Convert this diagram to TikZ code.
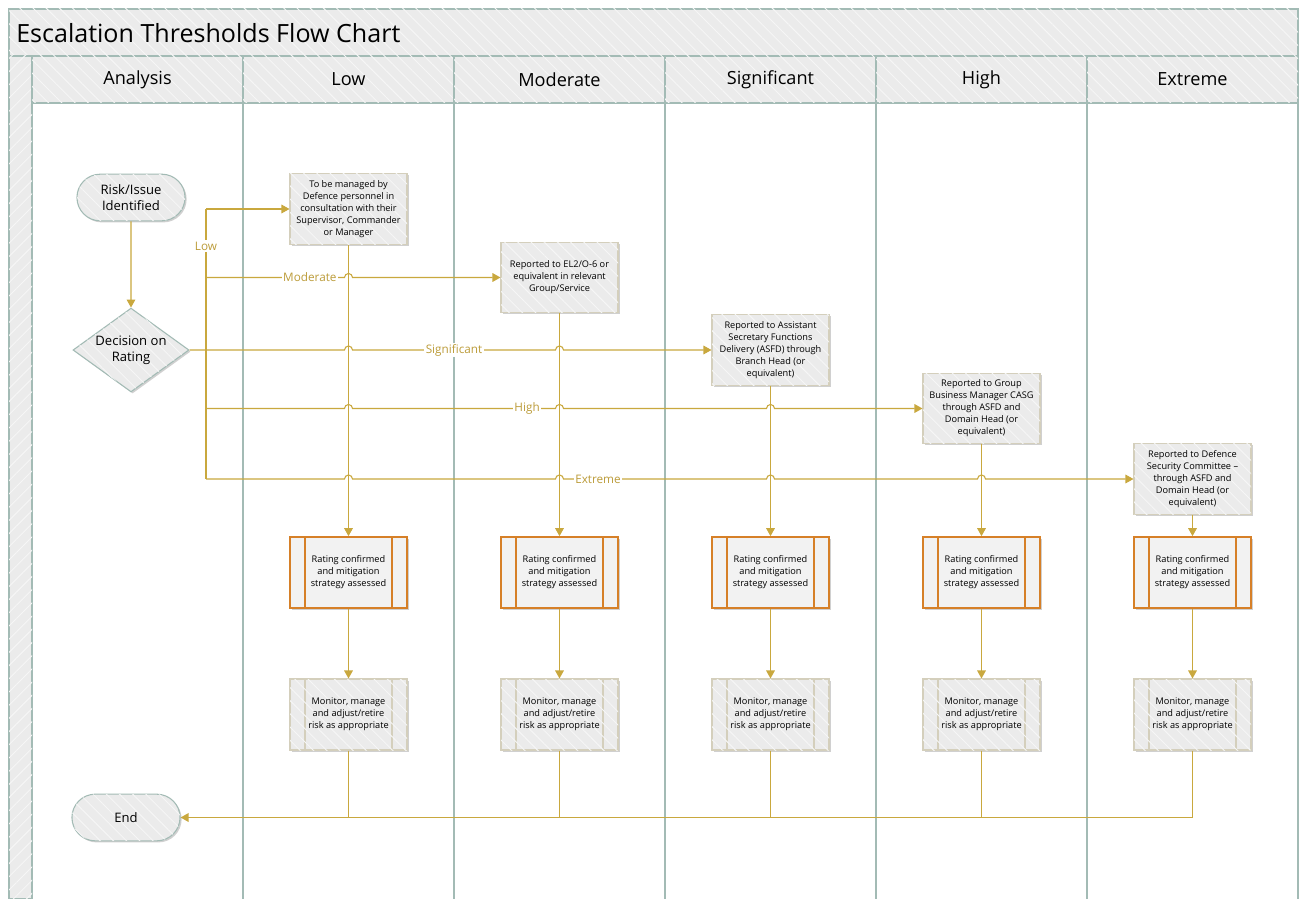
\documentclass[tikz,border=0pt]{standalone}
\usepackage{fontspec}
\setmainfont{Open Sans}
\usetikzlibrary{positioning,shapes.geometric,shapes.misc,arrows.meta,shadows,patterns.meta}

\definecolor{flowgold}{RGB}{201,168,62}
\definecolor{labelgold}{RGB}{188,156,58}
\definecolor{lanegrey}{RGB}{163,187,181}
\definecolor{panefill}{RGB}{235,235,235}
\definecolor{stripe}{RGB}{246,246,246}
\definecolor{boxedge}{RGB}{212,207,188}
\definecolor{rateedge}{RGB}{214,128,40}
\definecolor{ratefill}{RGB}{242,242,242}

\newcommand{\boxfont}{\fontsize{6.9}{9}\selectfont}

\tikzset{
  hatchdown/.style={fill=panefill, postaction={pattern={Lines[angle=-45,distance=7pt,line width=0.7pt]}, pattern color=stripe}},
  hatchup/.style={fill=panefill, postaction={pattern={Lines[angle=45,distance=7pt,line width=0.7pt]}, pattern color=stripe}},
  lane/.style={draw=lanegrey, line width=0.9pt},
  head/.style={lane, hatchdown, minimum width=158.25pt, minimum height=35.25pt, inner sep=0pt, font=\fontsize{13.6}{15}\selectfont},
  softshadow/.style={drop shadow={shadow xshift=1.2pt, shadow yshift=-1.2pt, opacity=0.3, fill=black!60}},
  term/.style={rounded rectangle, draw=lanegrey, line width=0.8pt, hatchdown, softshadow, minimum width=87.75pt, minimum height=35pt, align=center, font=\fontsize{9.8}{12}\selectfont},
  decide/.style={diamond, draw=lanegrey, line width=0.8pt, hatchdown, softshadow, inner sep=-3pt, minimum width=87pt, minimum height=52.5pt, align=center, font=\fontsize{9.8}{12}\selectfont},
  flowbox/.style={draw=boxedge, line width=0.8pt, hatchdown, softshadow, minimum width=87.75pt, minimum height=53pt, inner sep=1pt, align=center, font=\boxfont},
  ratebox/.style={draw=rateedge, line width=1.3pt, fill=ratefill, softshadow, minimum width=87.75pt, minimum height=53.25pt, inner sep=1pt, align=center, font=\boxfont,
    path picture={\draw[rateedge, line width=1.3pt]
      ([xshift=11.25pt]path picture bounding box.north west) -- ([xshift=11.25pt]path picture bounding box.south west)
      ([xshift=-11.25pt]path picture bounding box.north east) -- ([xshift=-11.25pt]path picture bounding box.south east);}},
  monbox/.style={draw=boxedge, line width=0.8pt, hatchdown, softshadow, minimum width=87.75pt, minimum height=53.25pt, inner sep=1pt, align=center, font=\boxfont,
    path picture={\draw[boxedge, line width=0.8pt]
      ([xshift=11.25pt]path picture bounding box.north west) -- ([xshift=11.25pt]path picture bounding box.south west)
      ([xshift=-11.25pt]path picture bounding box.north east) -- ([xshift=-11.25pt]path picture bounding box.south east);}},
  flow/.style={draw=flowgold, line width=0.8pt},
  tip/.style={-{Triangle[length=6pt,width=6.5pt]}},
  lbl/.style={fill=white, text=labelgold, inner sep=1pt, font=\fontsize{8.8}{10}\selectfont}
}

\begin{document}
\begin{tikzpicture}[x=0.75pt, y=0.75pt]
\useasboundingbox (0,0) rectangle (1303,-899);
\fill[white] (0,0) rectangle (1303,-899);

% pool, title and lanes
\draw[lane, hatchdown] (9,-9) rectangle (1298,-56);
\node[anchor=west, inner sep=0pt, font=\fontsize{18.8}{22}\selectfont] (title) at (16,-33) {Escalation Thresholds Flow Chart};
\draw[lane, hatchup] (9,-56) rectangle (32,-899);
\node[head] (hAnalysis) at (137.5,-79.5) {Analysis};
\node[head] (hLow) at (348.5,-79.5) {Low};
\node[head] (hModerate) at (559.5,-79.5) {Moderate};
\node[head] (hSignificant) at (770.5,-79.5) {Significant};
\node[head] (hHigh) at (981.5,-79.5) {High};
\node[head] (hExtreme) at (1192.5,-79.5) {Extreme};
\draw[lane] (243,-103) -- (243,-899);
\draw[lane] (454,-103) -- (454,-899);
\draw[lane] (665,-103) -- (665,-899);
\draw[lane] (876,-103) -- (876,-899);
\draw[lane] (1087,-103) -- (1087,-899);
\draw[lane] (1298,-103) -- (1298,-899);

% analysis lane
\node[term] (risk) at (131,-197.5) {Risk/Issue\\Identified};
\node[decide] (rating) at (131,-350) {Decision on\\Rating};
\node[term] (finish) at (126,-817.5) {End};

% reporting boxes
\node[flowbox] (toLow) at (348.5,-209) {To be managed by\\Defence personnel in\\consultation with their\\Supervisor, Commander\\or Manager};
\node[flowbox] (toModerate) at (559.5,-277.5) {Reported to EL2/O-6 or\\equivalent in relevant\\Group/Service};
\node[flowbox] (toSignificant) at (770.5,-350) {Reported to Assistant\\Secretary Functions\\Delivery (ASFD) through\\Branch Head (or\\equivalent)};
\node[flowbox] (toHigh) at (981.5,-408.5) {Reported to Group\\Business Manager CASG\\through ASFD and\\Domain Head (or\\equivalent)};
\node[flowbox] (toExtreme) at (1192.5,-479) {Reported to Defence\\Security Committee –\\through ASFD  and\\Domain Head (or\\equivalent)};

% rating confirmed
\node[ratebox] (rateLow) at (348.5,-572.5) {Rating confirmed\\and mitigation\\strategy assessed};
\node[ratebox] (rateModerate) at (559.5,-572.5) {Rating confirmed\\and mitigation\\strategy assessed};
\node[ratebox] (rateSignificant) at (770.5,-572.5) {Rating confirmed\\and mitigation\\strategy assessed};
\node[ratebox] (rateHigh) at (981.5,-572.5) {Rating confirmed\\and mitigation\\strategy assessed};
\node[ratebox] (rateExtreme) at (1192.5,-572.5) {Rating confirmed\\and mitigation\\strategy assessed};

% monitor
\node[monbox] (monLow) at (348.5,-714.5) {Monitor, manage\\and adjust/retire\\risk as appropriate};
\node[monbox] (monModerate) at (559.5,-714.5) {Monitor, manage\\and adjust/retire\\risk as appropriate};
\node[monbox] (monSignificant) at (770.5,-714.5) {Monitor, manage\\and adjust/retire\\risk as appropriate};
\node[monbox] (monHigh) at (981.5,-714.5) {Monitor, manage\\and adjust/retire\\risk as appropriate};
\node[monbox] (monExtreme) at (1192.5,-714.5) {Monitor, manage\\and adjust/retire\\risk as appropriate};

% vertical connectors
\draw[flow, tip] (risk) -- (rating);
\draw[flow, tip] (toLow) -- (rateLow);
\draw[flow, tip] (toModerate) -- (rateModerate);
\draw[flow, tip] (toSignificant) -- (rateSignificant);
\draw[flow, tip] (toHigh) -- (rateHigh);
\draw[flow, tip] (toExtreme) -- (rateExtreme);
\draw[flow, tip] (rateLow) -- (monLow);
\draw[flow, tip] (rateModerate) -- (monModerate);
\draw[flow, tip] (rateSignificant) -- (monSignificant);
\draw[flow, tip] (rateHigh) -- (monHigh);
\draw[flow, tip] (rateExtreme) -- (monExtreme);

% rating branches
\coordinate (busTop) at (206,-209);
\coordinate (busBottom) at (206,-479);
\draw[flow] (busTop) -- node[lbl, pos=0.137] {Low} (busBottom);
\draw[flow, tip] (busTop) -- (toLow.west);
\draw[flow, tip] (206,-277.5) -- node[lbl, pos=0.75] {Moderate} (344.5,-277.5)
  arc[start angle=180, end angle=0, radius=4] -- (toModerate.west);
\draw[flow, tip] (rating.east) -- (344.5,-350) arc[start angle=180, end angle=0, radius=4]
  -- node[lbl] {Significant} (555.5,-350) arc[start angle=180, end angle=0, radius=4]
  -- (toSignificant.west);
\draw[flow, tip] (206,-408.5) -- (344.5,-408.5) arc[start angle=180, end angle=0, radius=4]
  -- node[lbl, pos=0.86] {High} (555.5,-408.5) arc[start angle=180, end angle=0, radius=4]
  -- (766.5,-408.5) arc[start angle=180, end angle=0, radius=4] -- (toHigh.west);
\draw[flow, tip] (busBottom) -- (344.5,-479) arc[start angle=180, end angle=0, radius=4]
  -- (555.5,-479) arc[start angle=180, end angle=0, radius=4]
  -- node[lbl, pos=0.17] {Extreme} (766.5,-479) arc[start angle=180, end angle=0, radius=4]
  -- (977.5,-479) arc[start angle=180, end angle=0, radius=4] -- (toExtreme.west);

% to end
\draw[flow, tip, line width=1pt] (monExtreme.south) |- (finish.east);
\draw[flow] (monLow.south) -- (monLow.south |- finish.east);
\draw[flow] (monModerate.south) -- (monModerate.south |- finish.east);
\draw[flow] (monSignificant.south) -- (monSignificant.south |- finish.east);
\draw[flow] (monHigh.south) -- (monHigh.south |- finish.east);
\end{tikzpicture}
\end{document}
